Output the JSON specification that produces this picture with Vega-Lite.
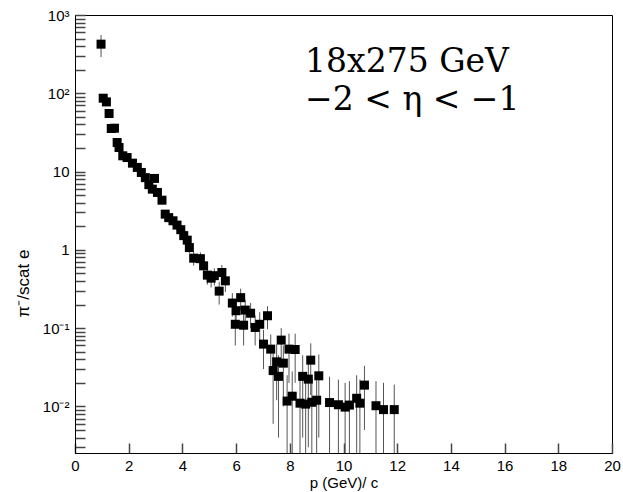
{
  "$schema": "https://vega.github.io/schema/vega-lite/v6.json",
  "width": 537,
  "height": 438,
  "autosize": "none",
  "padding": {"left": 75, "top": 15, "right": 11, "bottom": 39},
  "background": "white",
  "config": {"view": {"stroke": "black", "strokeWidth": 1}, "font": "Liberation Sans"},
  "layer": [
    {
      "data": {"values": [
        {"p": 0.97, "v": 424, "lo": 290, "hi": 555},
        {"p": 1.05, "v": 86.5, "lo": 82, "hi": 91},
        {"p": 1.17, "v": 77.6, "lo": 74, "hi": 81},
        {"p": 1.27, "v": 55.2, "lo": 52, "hi": 58},
        {"p": 1.35, "v": 35.5, "lo": 33.5, "hi": 37.5},
        {"p": 1.47, "v": 35.8, "lo": 33.8, "hi": 37.8},
        {"p": 1.57, "v": 23.5, "lo": 22, "hi": 25},
        {"p": 1.64, "v": 20.3, "lo": 19, "hi": 21.6},
        {"p": 1.78, "v": 15.9, "lo": 14.9, "hi": 16.9},
        {"p": 1.94, "v": 15.1, "lo": 14.1, "hi": 16.1},
        {"p": 2.14, "v": 12.8, "lo": 11.9, "hi": 13.7},
        {"p": 2.32, "v": 11.3, "lo": 10.4, "hi": 12.2},
        {"p": 2.47, "v": 9.74, "lo": 8.9, "hi": 10.6},
        {"p": 2.62, "v": 8.36, "lo": 7.6, "hi": 9.1},
        {"p": 2.75, "v": 6.8, "lo": 6.1, "hi": 7.5},
        {"p": 2.88, "v": 5.96, "lo": 5.3, "hi": 6.6},
        {"p": 2.96, "v": 8.17, "lo": 7.4, "hi": 8.9},
        {"p": 3.07, "v": 5.41, "lo": 4.8, "hi": 6.0},
        {"p": 3.24, "v": 4.31, "lo": 3.8, "hi": 4.8},
        {"p": 3.36, "v": 2.86, "lo": 2.5, "hi": 3.2},
        {"p": 3.49, "v": 2.58, "lo": 2.25, "hi": 2.9},
        {"p": 3.65, "v": 2.35, "lo": 2.05, "hi": 2.65},
        {"p": 3.8, "v": 2.07, "lo": 1.8, "hi": 2.35},
        {"p": 3.94, "v": 1.81, "lo": 1.55, "hi": 2.07},
        {"p": 4.05, "v": 1.52, "lo": 1.3, "hi": 1.74},
        {"p": 4.18, "v": 1.33, "lo": 1.12, "hi": 1.54},
        {"p": 4.26, "v": 1.07, "lo": 0.9, "hi": 1.24},
        {"p": 4.42, "v": 0.783, "lo": 0.63, "hi": 0.94},
        {"p": 4.67, "v": 0.772, "lo": 0.62, "hi": 0.93},
        {"p": 4.79, "v": 0.625, "lo": 0.49, "hi": 0.76},
        {"p": 4.93, "v": 0.475, "lo": 0.36, "hi": 0.59},
        {"p": 5.07, "v": 0.435, "lo": 0.33, "hi": 0.54},
        {"p": 5.19, "v": 0.468, "lo": 0.35, "hi": 0.58},
        {"p": 5.37, "v": 0.297, "lo": 0.2, "hi": 0.39},
        {"p": 5.47, "v": 0.514, "lo": 0.39, "hi": 0.64},
        {"p": 5.6, "v": 0.402, "lo": 0.29, "hi": 0.51},
        {"p": 5.86, "v": 0.209, "lo": 0.14, "hi": 0.28},
        {"p": 5.97, "v": 0.112, "lo": 0.06, "hi": 0.165},
        {"p": 6.0, "v": 0.167, "lo": 0.11, "hi": 0.225},
        {"p": 6.17, "v": 0.245, "lo": 0.17, "hi": 0.32},
        {"p": 6.28, "v": 0.109, "lo": 0.06, "hi": 0.16},
        {"p": 6.34, "v": 0.17, "lo": 0.11, "hi": 0.23},
        {"p": 6.54, "v": 0.155, "lo": 0.1, "hi": 0.21},
        {"p": 6.71, "v": 0.102, "lo": 0.06, "hi": 0.145},
        {"p": 6.88, "v": 0.112, "lo": 0.065, "hi": 0.16},
        {"p": 7.02, "v": 0.0625, "lo": 0.03, "hi": 0.095},
        {"p": 7.17, "v": 0.144, "lo": 0.097, "hi": 0.19},
        {"p": 7.29, "v": 0.0539, "lo": 0.025, "hi": 0.083},
        {"p": 7.38, "v": 0.0287, "lo": 0.006, "hi": 0.052},
        {"p": 7.51, "v": 0.0371, "lo": 0.012, "hi": 0.062},
        {"p": 7.58, "v": 0.0242, "lo": 0.004, "hi": 0.045},
        {"p": 7.68, "v": 0.0703, "lo": 0.035, "hi": 0.1},
        {"p": 7.76, "v": 0.0357, "lo": 0.01, "hi": 0.06},
        {"p": 7.9, "v": 0.0117, "lo": 0.001, "hi": 0.025},
        {"p": 7.97, "v": 0.0539, "lo": 0.02, "hi": 0.085},
        {"p": 8.09, "v": 0.0135, "lo": 0.001, "hi": 0.028},
        {"p": 8.2, "v": 0.0533, "lo": 0.02, "hi": 0.085},
        {"p": 8.38, "v": 0.011, "lo": 0.001, "hi": 0.022},
        {"p": 8.48, "v": 0.0242, "lo": 0.004, "hi": 0.045},
        {"p": 8.59, "v": 0.0107, "lo": 0.001, "hi": 0.021},
        {"p": 8.69, "v": 0.0223, "lo": 0.003, "hi": 0.042},
        {"p": 8.78, "v": 0.039, "lo": 0.014, "hi": 0.064},
        {"p": 8.82, "v": 0.0113, "lo": 0.001, "hi": 0.023},
        {"p": 9.0, "v": 0.012, "lo": 0.001, "hi": 0.024},
        {"p": 9.08, "v": 0.0246, "lo": 0.004, "hi": 0.046},
        {"p": 9.48, "v": 0.0112, "lo": 0.001, "hi": 0.024},
        {"p": 9.81, "v": 0.0105, "lo": 0.001, "hi": 0.022},
        {"p": 10.06, "v": 0.0098, "lo": 0.001, "hi": 0.02},
        {"p": 10.22, "v": 0.0104, "lo": 0.001, "hi": 0.021},
        {"p": 10.49, "v": 0.0127, "lo": 0.001, "hi": 0.025},
        {"p": 10.61, "v": 0.011, "lo": 0.001, "hi": 0.022},
        {"p": 10.78, "v": 0.0187, "lo": 0.005, "hi": 0.033},
        {"p": 11.21, "v": 0.0102, "lo": 0.001, "hi": 0.021},
        {"p": 11.49, "v": 0.0091, "lo": 0.001, "hi": 0.02},
        {"p": 11.89, "v": 0.0091, "lo": 0.001, "hi": 0.019}
      ]},
      "layer": [
        {
          "mark": {"type": "rule", "color": "#555555", "strokeWidth": 1},
          "encoding": {
            "x": {"field": "p", "type": "quantitative",
              "scale": {"domain": [0, 20], "nice": false, "zero": false},
              "axis": {
                "title": "p (GeV)/ c",
                "values": [0,0.5,1,1.5,2,2.5,3,3.5,4,4.5,5,5.5,6,6.5,7,7.5,8,8.5,9,9.5,10,10.5,11,11.5,12,12.5,13,13.5,14,14.5,15,15.5,16,16.5,17,17.5,18,18.5,19,19.5,20],
                "labelExpr": "datum.value % 2 == 0 ? format(datum.value, 'd') : ''",
                "tickSize": -10,
                "ticks": true,
                "tickColor": "#444444",
                "tickWidth": 1.5,
                "labelPadding": 15,
                "labelFlush": false,
                "labelOverlap": false,
                "labelFontSize": 15,
                "labelFont": "Liberation Sans",
                "labelColor": "black",
                "titleFont": "Liberation Sans",
                "titleFontSize": 15,
                "titleFontWeight": "normal",
                "titleColor": "black",
                "titleBaseline": "middle",
                "titleY": 29,
                "grid": false,
                "domainColor": "black"
              }
            },
            "y": {"field": "lo", "type": "quantitative",
              "scale": {"type": "log", "domain": [0.00254, 1000], "nice": false, "clamp": true},
              "axis": {
                "title": "π⁻/scat e",
                "values": [0.003,0.004,0.005,0.006,0.007,0.008,0.009,0.01,0.02,0.03,0.04,0.05,0.06,0.07,0.08,0.09,0.1,0.2,0.3,0.4,0.5,0.6,0.7,0.8,0.9,1,2,3,4,5,6,7,8,9,10,20,30,40,50,60,70,80,90,100,200,300,400,500,600,700,800,900,1000],
                "labelExpr": "datum.value == 1000 ? '10³' : datum.value == 100 ? '10²' : datum.value == 10 ? '10' : datum.value == 1 ? '1' : datum.value == 0.1 ? '10⁻¹' : datum.value == 0.01 ? '10⁻²' : ''",
                "tickSize": -10,
                "ticks": true,
                "tickColor": "#444444",
                "tickWidth": 1.5,
                "labelPadding": 16,
                "labelOverlap": false,
                "labelFontSize": 15,
                "labelFont": "Liberation Sans",
                "labelColor": "black",
                "titleFont": "Liberation Sans",
                "titleFontSize": 17,
                "titleFontWeight": "normal",
                "titleColor": "black",
                "titleAngle": -90,
                "titleAlign": "center",
                "titleBaseline": "middle",
                "titleX": -52,
                "titleY": 268,
                "grid": false,
                "domainColor": "black"
              }
            },
            "y2": {"field": "hi"}
          }
        },
        {
          "mark": {"type": "point", "shape": "square", "filled": true, "size": 81, "color": "black", "opacity": 1},
          "encoding": {
            "x": {"field": "p", "type": "quantitative"},
            "y": {"field": "v", "type": "quantitative"}
          }
        }
      ]
    },
    {
      "data": {"values": [
        {"p": 8.57, "v": 184.5, "label": "18x275 GeV"},
        {"p": 8.57, "v": 62, "label": "−2 < η < −1"}
      ]},
      "mark": {"type": "text", "align": "left", "baseline": "alphabetic", "font": "DejaVu Serif", "fontSize": 33, "color": "black"},
      "encoding": {
        "x": {"field": "p", "type": "quantitative"},
        "y": {"field": "v", "type": "quantitative"},
        "text": {"field": "label"}
      }
    }
  ]
}
